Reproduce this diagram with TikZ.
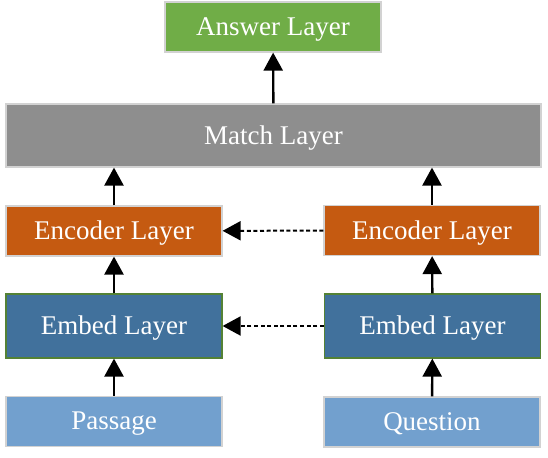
\documentclass[tikz,border=0pt]{standalone}
\usepackage{fontspec}
\setmainfont{Liberation Serif}
\usetikzlibrary{arrows.meta}
\definecolor{ansgreen}{HTML}{70AD47}
\definecolor{matchgray}{HTML}{8E8E8E}
\definecolor{encorange}{HTML}{C55A11}
\definecolor{embblue}{HTML}{41719C}
\definecolor{embedge}{HTML}{548235}
\definecolor{inblue}{HTML}{72A0CE}
\definecolor{boxedge}{HTML}{D2D2D2}
\begin{document}
\begin{tikzpicture}[x=0.5pt, y=-0.5pt,
    layer/.style={draw=boxedge, line width=0.6pt, text=white, minimum width=108pt, minimum height=25pt,
      inner sep=0pt, text depth=0.5pt, font=\fontsize{13.5}{16}\selectfont},
    up/.style={-{Triangle[width=9.5pt,length=9pt]}, line width=1.2pt},
    share/.style={-{Triangle[width=9.5pt,length=9pt]}, line width=1pt, dash pattern=on 2pt off 1.3pt}]
  \useasboundingbox (0,0) rectangle (548,458);

  % Inputs
  \node[layer, fill=inblue] (psg) at (114,421.5) {Passage};
  \node[layer, fill=inblue] (qst) at (432,422) {Question};

  % Embed and encoder
  \node[layer, fill=embblue, draw=embedge, minimum height=32pt] (embL) at (114,326) {Embed Layer};
  \node[layer, fill=embblue, draw=embedge, minimum height=32pt] (embR) at (432.5,326) {Embed Layer};
  \node[layer, fill=encorange] (encL) at (114,231) {Encoder Layer};
  \node[layer, fill=encorange] (encR) at (432,230.5) {Encoder Layer};

  % Match and answer
  \node[layer, fill=matchgray, minimum width=267.5pt, minimum height=31.5pt] (match) at (273.5,135.5) {Match Layer};
  \node[layer, fill=ansgreen] (ans) at (273,27) {Answer Layer};

  % Upward flow
  \draw[up] (psg) -- (embL);
  \draw[up] (qst) -- (embR);
  \draw[up] (embL) -- (encL);
  \draw[up] (embR) -- (encR);
  \draw[up] (encL.north) -- (encL.north |- match.south);
  \draw[up] (encR.north) -- (encR.north |- match.south);
  \draw[up] (match) -- (ans);

  % Shared weights
  \draw[share] (embR) -- (embL);
  \draw[share] (encR) -- (encL);
\end{tikzpicture}
\end{document}
